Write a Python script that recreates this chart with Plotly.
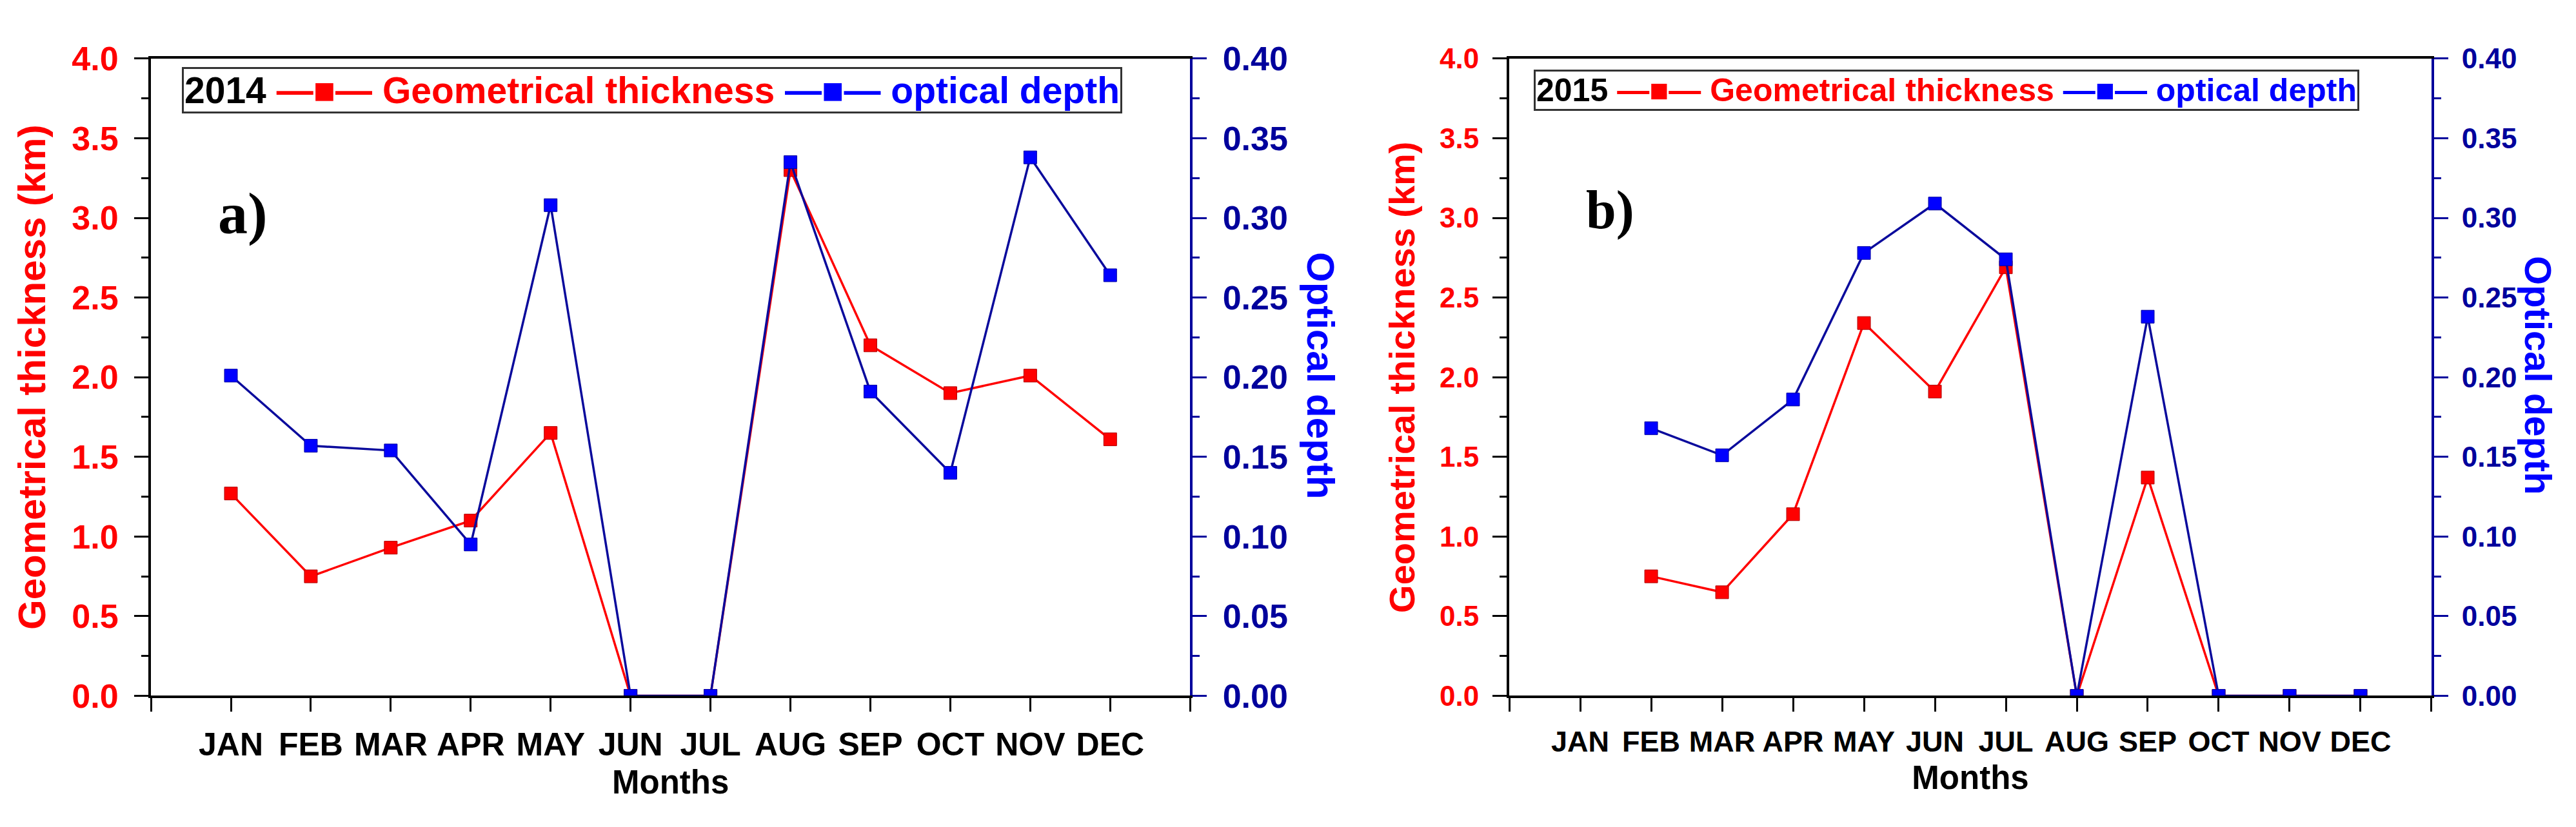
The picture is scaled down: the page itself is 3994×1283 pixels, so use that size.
import plotly.graph_objects as go
from plotly.subplots import make_subplots

# Data
months = ["JAN", "FEB", "MAR", "APR", "MAY", "JUN",
          "JUL", "AUG", "SEP", "OCT", "NOV", "DEC"]
month_pos = list(range(1, 13))

thick_2014 = [1.27, 0.75, 0.93, 1.10, 1.65, 0.0, 0.0, 3.30, 2.20, 1.90, 2.01, 1.61]
od_2014 = [0.201, 0.157, 0.154, 0.095, 0.308, 0.0, 0.0, 0.335, 0.191, 0.140, 0.338, 0.264]

thick_2015 = [None, 0.75, 0.65, 1.14, 2.34, 1.91, 2.69, 0.0, 1.37, 0.0, 0.0, 0.0]
od_2015 = [None, 0.168, 0.151, 0.186, 0.278, 0.309, 0.274, 0.0, 0.238, 0.0, 0.0, 0.0]

years = ["2014", "2015"]
panel_tags = ["a)", "b)"]
thick_name = "Geometrical thickness"
od_name = "optical depth"

FONT = "Liberation Sans, Arial, sans-serif"
SERIF = "Liberation Serif, Times New Roman, serif"
RED = "#FF0000"
BLUE = "#0000FF"
NAVY = "#00009C"

# the left panel is drawn a bit larger in the source image
sizes = [
    dict(tick=52, month=50, title=60, rtitle=60, key=57, tag=92, std=14,
         xdom=[0.0566, 0.4600], keyx=0.0686),
    dict(tick=44, month=45, title=56, rtitle=58, key=50, tag=84, std=12,
         xdom=[0.5839, 0.9419], keyx=0.5934),
]
right_title_x = [0.5108, 0.9835]
tag_pos = [(1.15, 3.03), (1.42, 3.05)]

fig = make_subplots(rows=1, cols=2,
                    specs=[[{"secondary_y": True}, {"secondary_y": True}]])

panels = [(thick_2014, od_2014), (thick_2015, od_2015)]
for col, (thick, od) in enumerate(panels, start=1):
    fig.add_trace(go.Scatter(
        x=month_pos, y=thick, mode="lines+markers", name=thick_name,
        line=dict(color=RED, width=3.5),
        marker=dict(symbol="square", size=20, color=RED,
                    line=dict(color="#B00000", width=1)),
        showlegend=False,
    ), row=1, col=col, secondary_y=False)
    fig.add_trace(go.Scatter(
        x=month_pos, y=od, mode="lines+markers", name=od_name,
        line=dict(color="#0A0A9C", width=3.5),
        marker=dict(symbol="square", size=20, color=BLUE,
                    line=dict(color="#0000A0", width=1)),
        showlegend=False,
    ), row=1, col=col, secondary_y=True)

for col, s in enumerate(sizes, start=1):
    fig.update_xaxes(
        domain=s["xdom"],
        range=[0, 13], tickvals=list(range(14)), ticktext=[""] + months + [""],
        ticks="outside", ticklen=21, tickwidth=3, tickcolor="black",
        showline=True, linecolor="black", linewidth=4, mirror=True,
        showgrid=False, zeroline=False, ticklabelstandoff=8,
        tickfont=dict(family=FONT, size=s["month"], color="black", weight="bold"),
        title=dict(text="Months", standoff=14,
                   font=dict(family=FONT, size=51, color="black", weight="bold")),
        row=1, col=col,
    )
    fig.update_yaxes(
        range=[0, 4], dtick=0.5, tickformat=".1f",
        ticks="outside", ticklen=22, tickwidth=3, tickcolor="black",
        minor=dict(dtick=0.25, ticks="outside", ticklen=11, tickwidth=3,
                   tickcolor="black", showgrid=False),
        showline=True, linecolor="black", linewidth=4,
        showgrid=False, zeroline=False, ticklabelstandoff=s["std"],
        tickfont=dict(family=FONT, size=s["tick"], color=RED, weight="bold"),
        title=dict(text="Geometrical thickness (km)", standoff=22,
                   font=dict(family=FONT, size=s["title"], color=RED, weight="bold")),
        domain=[0.149, 0.956],
        row=1, col=col, secondary_y=False,
    )
    fig.update_yaxes(
        range=[0, 0.4], dtick=0.05, tickformat=".2f",
        ticks="outside", ticklen=22, tickwidth=3, tickcolor=NAVY,
        minor=dict(dtick=0.025, ticks="outside", ticklen=11, tickwidth=3,
                   tickcolor=NAVY, showgrid=False),
        showline=True, linecolor=NAVY, linewidth=4,
        showgrid=False, zeroline=False, ticklabelstandoff=s["std"],
        tickfont=dict(family=FONT, size=s["tick"], color=NAVY, weight="bold"),
        row=1, col=col, secondary_y=True,
    )

    # right-hand title reads top to bottom, so it goes in as an annotation
    fig.add_annotation(
        text="Optical depth", textangle=90, xref="paper", yref="paper",
        x=right_title_x[col - 1], y=0.555, xanchor="center", yanchor="middle",
        showarrow=False,
        font=dict(family=FONT, size=s["rtitle"], color=BLUE, weight="bold"),
    )

    # in-plot key box
    key = (f"<span style='color:black'>{years[col - 1]}</span> "
           f"<span style='color:{RED}'>—■— {thick_name}</span> "
           f"<span style='color:{BLUE}'>—■— {od_name}</span>")
    fig.add_annotation(
        text=key, xref="paper", yref="paper", x=s["keyx"], y=0.916,
        xanchor="left", yanchor="middle", showarrow=False,
        bordercolor="#333333", borderwidth=3, borderpad=1, bgcolor="white",
        font=dict(family=FONT, size=s["key"], color="black", weight="bold"),
    )

    # panel letter
    fig.add_annotation(
        text=panel_tags[col - 1], xref="x" if col == 1 else "x2",
        yref="y" if col == 1 else "y3",
        x=tag_pos[col - 1][0], y=tag_pos[col - 1][1], showarrow=False,
        font=dict(family=SERIF, size=s["tag"], color="black", weight="bold"),
    )

fig.update_layout(
    width=3994, height=1283,
    margin=dict(l=0, r=0, t=0, b=0),
    plot_bgcolor="white", paper_bgcolor="white",
    showlegend=False,
)

fig.write_html("out.html")
